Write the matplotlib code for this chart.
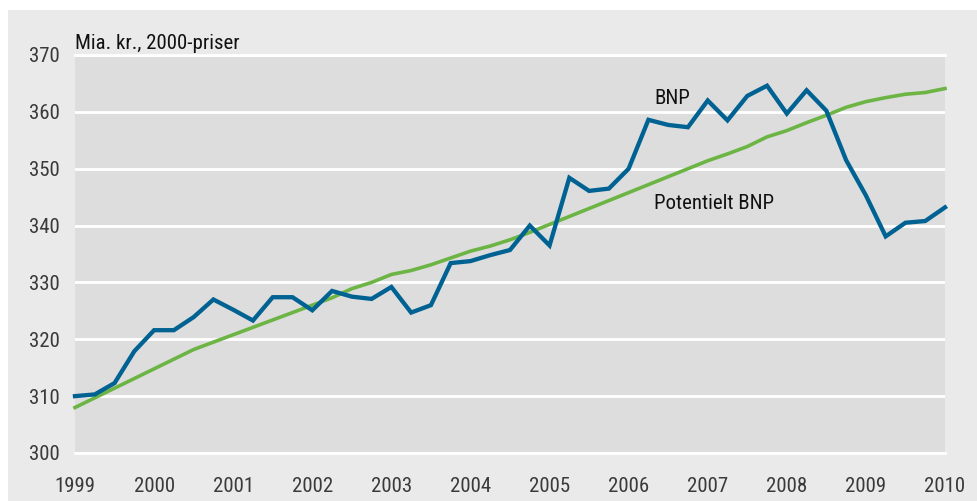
import matplotlib
matplotlib.use("Agg")
import matplotlib.pyplot as plt
from matplotlib.patches import Rectangle
import numpy as np

plt.rcParams['font.family'] = ['Liberation Sans Narrow', 'Roboto Condensed', 'Liberation Sans', 'DejaVu Sans']

# Quarterly data, 1999Q1 .. 2010Q1 (plotted at year + quarter/4)
start_year = 1999
bnp = [310.0, 310.3, 312.3, 317.9, 321.6, 321.6, 323.9, 327.0, 325.2, 323.3,
       327.4, 327.4, 325.1, 328.5, 327.5, 327.1, 329.2, 324.7, 326.0, 333.4,
       333.75, 334.8, 335.7, 340.0, 336.5, 348.4, 346.1, 346.5, 350.0, 358.6,
       357.7, 357.3, 362.0, 358.5, 362.8, 364.6, 359.7, 363.8, 360.2, 351.5,
       345.3, 338.1, 340.5, 340.8, 343.2]
potentiel = [308.0, 309.7, 311.4, 313.1, 314.8, 316.5, 318.2, 319.5, 320.8, 322.1,
             323.4, 324.7, 326.0, 327.3, 328.9, 330.0, 331.4, 332.1, 333.1, 334.3,
             335.5, 336.4, 337.5, 338.8, 340.2, 341.6, 343.0, 344.4, 345.8, 347.2,
             348.6, 350.0, 351.4, 352.6, 353.9, 355.6, 356.7, 358.1, 359.4, 360.8,
             361.8, 362.5, 363.1, 363.4, 364.1]
x = [start_year + i / 4 for i in range(len(bnp))]

year_ticks = list(range(1999, 2011))
y_ticks = [300, 310, 320, 330, 340, 350, 360, 370]

W, H = 977, 501
fig = plt.figure(figsize=(W / 100, H / 100), dpi=100)
fig.patch.set_facecolor('white')
fig.patches.append(Rectangle((8 / W, 0), 1, (H - 10) / H, transform=fig.transFigure,
                             facecolor='#eaeaea', edgecolor='none', zorder=-10))

left, right, top, bottom = 75, 945, 55, 453
ax = fig.add_axes([left / W, (H - bottom) / H, (right - left) / W, (bottom - top) / H])
ax.set_facecolor('#dddddd')

FS = 15
ax.set_xlim(1999, 2010)
ax.set_ylim(300, 370)
ax.set_yticks(y_ticks)
ax.set_xticks(year_ticks)
ax.yaxis.grid(True, color='white', linewidth=2.0)
ax.set_axisbelow(True)
for s in ax.spines.values():
    s.set_visible(False)
ax.tick_params(axis='both', length=0, labelsize=FS, colors='#3a3a3a')
ax.tick_params(axis='y', pad=11)
ax.tick_params(axis='x', pad=17)
for v in (300, 370):
    ax.axhline(v, color='white', linewidth=2.0, zorder=0.5, clip_on=False)

ax.plot(x, potentiel, color='#6cb545', linewidth=2.6, solid_joinstyle='miter', clip_on=False, zorder=3)
ax.plot(x, bnp, color='#006292', linewidth=3.1, solid_joinstyle='miter', clip_on=False, zorder=4)

ax.text(2006.32, 362.3, 'BNP', fontsize=FS, color='#111111', va='center', ha='left')
ax.text(2006.32, 343.9, 'Potentielt BNP', fontsize=FS, color='#111111', va='center', ha='left')

fig.text(left / W, (H - 49) / H, 'Mia. kr., 2000-priser', fontsize=FS, color='#111111',
         ha='left', va='baseline')

fig.savefig('out.png', dpi=100, facecolor=fig.get_facecolor())
